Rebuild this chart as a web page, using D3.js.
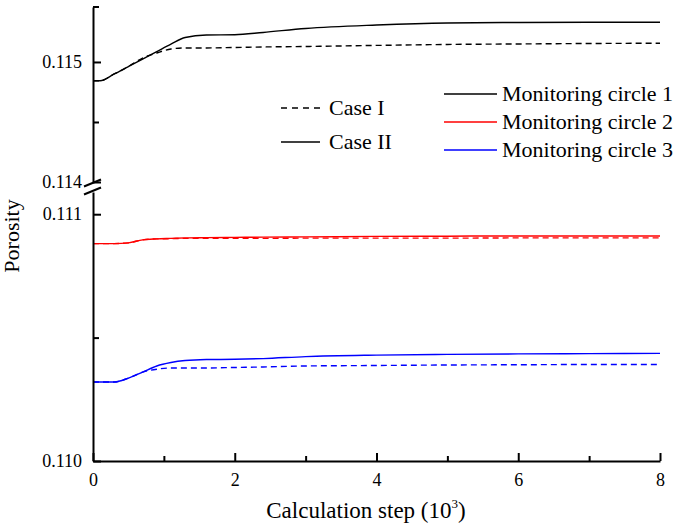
<!DOCTYPE html>
<html>
<head>
<meta charset="utf-8">
<script src="https://cdn.jsdelivr.net/npm/d3@7"></script>
<style>
  body { margin: 0; background: #fff; }
</style>
</head>
<body>
<div id="container"></div>
<script>
// calculation step, in 10^3
const steps = [0, 0.1, 0.3, 0.5, 0.7, 0.9, 1.1, 1.3, 1.6, 2.0, 2.4, 3.0, 4.0, 5.0, 6.0, 7.0, 8.0];

// monitoring circle 1 (upper panel)
const circle1CaseI  = [0.114844, 0.114844, 0.1149, 0.114962, 0.115033, 0.115075, 0.115108, 0.115117, 0.115117, 0.115121, 0.115125, 0.115129, 0.115138, 0.115146, 0.11515, 0.115154, 0.115156];
const circle1CaseII = [0.114844, 0.114844, 0.1149, 0.114962, 0.115024, 0.115086, 0.115148, 0.115204, 0.115225, 0.115227, 0.115246, 0.115279, 0.115308, 0.115325, 0.115329, 0.115331, 0.115331];
// monitoring circle 2 and 3 (lower panel)
const circle2CaseI  = [0.110881, 0.110881, 0.110881, 0.110884, 0.110896, 0.1109, 0.110901, 0.110902, 0.110902, 0.110902, 0.110902, 0.110903, 0.110903, 0.110903, 0.110904, 0.110904, 0.110904];
const circle2CaseII = [0.110881, 0.110881, 0.110881, 0.110884, 0.110896, 0.1109, 0.110902, 0.110904, 0.110905, 0.110906, 0.110907, 0.110908, 0.11091, 0.110911, 0.110912, 0.110912, 0.110912];
const circle3CaseI  = [0.11032, 0.11032, 0.11032, 0.110336, 0.11036, 0.110372, 0.110377, 0.110377, 0.110377, 0.110379, 0.110381, 0.110385, 0.110387, 0.110389, 0.11039, 0.110391, 0.110391];
const circle3CaseII = [0.11032, 0.11032, 0.11032, 0.110336, 0.11036, 0.110385, 0.110399, 0.110407, 0.110411, 0.110412, 0.110415, 0.110423, 0.110429, 0.110432, 0.110434, 0.110435, 0.110436];

const xTicks = [0, 2, 4, 6, 8];
const xMinor = [1, 3, 5, 7];
const yTopTicks = [0.114, 0.115];
const yTopMinor = [0.1145];
const yBotTicks = [0.110, 0.111];
const yBotMinor = [0.1105];

const caseNames = ["Case I", "Case II"];
const circleNames = ["Monitoring circle 1", "Monitoring circle 2", "Monitoring circle 3"];
const circleColors = ["#000000", "#ff0000", "#0000ff"];

const FONT = "'Liberation Serif', 'Times New Roman', 'DejaVu Serif', serif";
const width = 685, height = 525;
const x0 = 93, x1 = 660;

const svg = d3.select("#container").append("svg")
    .attr("width", width)
    .attr("height", height)
    .style("font-family", FONT);

const x = d3.scaleLinear().domain([0, 8]).range([x0, x1]);
const yTop = d3.scaleLinear().domain([0.114, 0.115458]).range([182, 7]);
const yBot = d3.scaleLinear().domain([0.110, 0.11109]).range([461, 192]);

const fmt = d3.format(".3f");

// series
const series = [
    {vals: circle1CaseI,  color: circleColors[0], dash: true,  y: yTop},
    {vals: circle1CaseII, color: circleColors[0], dash: false, y: yTop},
    {vals: circle2CaseI,  color: circleColors[1], dash: true,  y: yBot},
    {vals: circle2CaseII, color: circleColors[1], dash: false, y: yBot},
    {vals: circle3CaseI,  color: circleColors[2], dash: true,  y: yBot},
    {vals: circle3CaseII, color: circleColors[2], dash: false, y: yBot}
];

const gLines = svg.append("g").attr("fill", "none");
series.forEach(s => {
    const line = d3.line()
        .x((d, i) => x(steps[i]))
        .y(d => s.y(d))
        .curve(d3.curveMonotoneX);
    gLines.append("path")
        .datum(s.vals)
        .attr("d", line)
        .attr("stroke", s.color)
        .attr("stroke-width", 1.4)
        .attr("stroke-dasharray", s.dash ? "6,4" : null);
});

// axes
function styleAxis(g) {
    g.attr("font-family", null);
    g.selectAll("path.domain").attr("stroke-width", 2);
    g.selectAll(".tick line").attr("stroke-width", 2);
    g.selectAll("text").attr("font-size", 18).style("font-family", FONT);
}

svg.append("g")
    .attr("transform", `translate(0,${yBot(0.110)})`)
    .call(d3.axisBottom(x).tickValues(xTicks).tickFormat(d3.format("d"))
        .tickSizeInner(-8).tickSizeOuter(0).tickPadding(12))
    .call(styleAxis);
svg.append("g")
    .attr("transform", `translate(0,${yBot(0.110)})`)
    .call(d3.axisBottom(x).tickValues(xMinor).tickFormat("")
        .tickSizeInner(-5).tickSizeOuter(0))
    .call(g => g.select(".domain").remove())
    .call(styleAxis);

[[yTop, yTopTicks, yTopMinor], [yBot, yBotTicks, yBotMinor]].forEach(([ys, major, minor]) => {
    svg.append("g")
        .attr("transform", `translate(${x0},0)`)
        .call(d3.axisLeft(ys).tickValues(major).tickFormat(fmt)
            .tickSizeInner(-8).tickSizeOuter(0).tickPadding(11))
        .call(styleAxis);
    svg.append("g")
        .attr("transform", `translate(${x0},0)`)
        .call(d3.axisLeft(ys).tickValues(minor).tickFormat("")
            .tickSizeInner(-6).tickSizeOuter(0))
        .call(g => g.select(".domain").remove())
        .call(styleAxis);
});

// top cap of the y axis
svg.append("line")
    .attr("x1", x0).attr("x2", x0 + 6)
    .attr("y1", yTop.range()[1]).attr("y2", yTop.range()[1])
    .attr("stroke", "#000").attr("stroke-width", 2);

// axis break marks
[183, 191].forEach(yb => {
    svg.append("line")
        .attr("x1", x0 - 9).attr("y1", yb + 3.5)
        .attr("x2", x0 + 8).attr("y2", yb - 3.5)
        .attr("stroke", "#000").attr("stroke-width", 2);
});

// axis titles
const xt = svg.append("text")
    .attr("x", 366).attr("y", 518)
    .attr("text-anchor", "middle")
    .attr("font-size", 23)
    .style("font-family", FONT);
xt.append("tspan").text("Calculation step (10");
xt.append("tspan").attr("font-size", 13).attr("dy", -10).text("3");
xt.append("tspan").attr("dy", 10).text(")");

svg.append("text")
    .attr("transform", "translate(19,236) rotate(-90)")
    .attr("text-anchor", "middle")
    .attr("font-size", 22)
    .style("font-family", FONT)
    .text("Porosity");

// legend: line styles
const legCase = svg.append("g");
caseNames.forEach((name, i) => {
    const yy = 108 + i * 34;
    legCase.append("line")
        .attr("x1", 281).attr("x2", 320)
        .attr("y1", yy).attr("y2", yy)
        .attr("stroke", "#000").attr("stroke-width", 1.4)
        .attr("stroke-dasharray", i === 0 ? "6,5" : null);
    legCase.append("text")
        .attr("x", 329).attr("y", yy + 7)
        .attr("font-size", 22)
        .style("font-family", FONT)
        .text(name);
});

// legend: colours
const legCircle = svg.append("g");
circleNames.forEach((name, i) => {
    const yy = 94 + i * 28;
    legCircle.append("line")
        .attr("x1", 444).attr("x2", 497)
        .attr("y1", yy).attr("y2", yy)
        .attr("stroke", circleColors[i]).attr("stroke-width", 1.4);
    legCircle.append("text")
        .attr("x", 502).attr("y", yy + 7)
        .attr("font-size", 22)
        .style("font-family", FONT)
        .text(name);
});
</script>
</body>
</html>
